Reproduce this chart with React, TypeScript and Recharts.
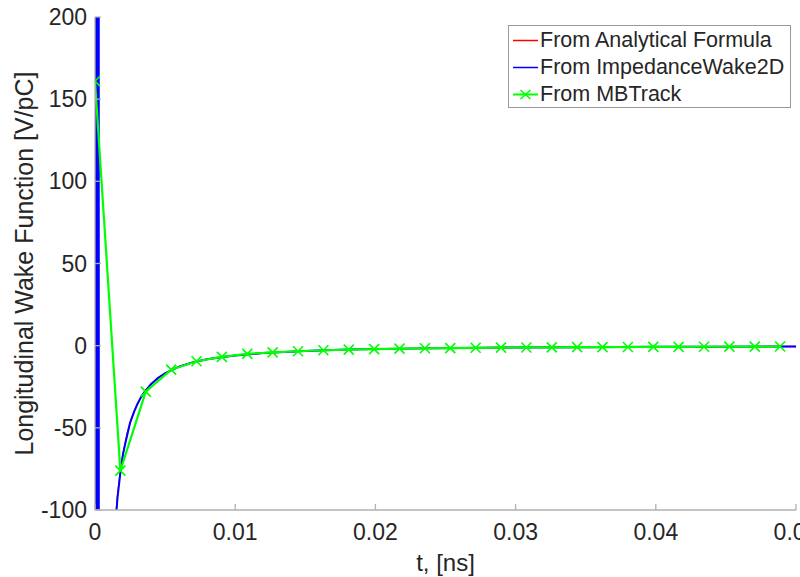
import { LineChart, Line, XAxis, YAxis, Legend, Label } from 'recharts';

// analytical resistive-wall wake, t in ns, W in V/pC
const analyticT = [0.0014, 0.0016, 0.0018, 0.002, 0.0023, 0.0026, 0.003, 0.0035, 0.004, 0.005, 0.006, 0.007, 0.008, 0.01, 0.012, 0.015, 0.018, 0.022, 0.026, 0.03, 0.035, 0.04, 0.045, 0.05];
const analyticV = [-111.7, -91.4, -76.6, -65.4, -53.1, -44.1, -35.6, -28.3, -23.1, -16.6, -12.6, -10.0, -8.2, -5.9, -4.5, -3.2, -2.4, -1.8, -1.4, -1.1, -0.9, -0.7, -0.6, -0.5];

// ImpedanceWake2D: big spike at t=0 then the tail
const iw2dT = [0, 0.00006, 0.00012, 0.00018, 0.00024, 0.0003, 0.00145, 0.0016, 0.0018, 0.002, 0.0022, 0.0025, 0.0028, 0.003, 0.0033, 0.0036, 0.004, 0.0045, 0.005, 0.006, 0.007, 0.008, 0.009, 0.01, 0.012, 0.015, 0.018, 0.022, 0.026, 0.03, 0.035, 0.04, 0.045, 0.05];
const iw2dV = [3000, -3000, 3000, -3000, 3000, -3000, -110, -93, -78, -66, -58, -47, -40, -36, -31, -27.5, -23.5, -19.5, -16.8, -12.8, -10.1, -8.3, -7.0, -6.0, -4.5, -3.2, -2.4, -1.8, -1.4, -1.1, -0.9, -0.7, -0.6, -0.5];

// MBTrack samples
const mbtrackT = [0, 0.00181, 0.00362, 0.00543, 0.00724, 0.00905, 0.01086, 0.01267, 0.01448, 0.01629, 0.0181, 0.01991, 0.02172, 0.02353, 0.02534, 0.02715, 0.02896, 0.03077, 0.03258, 0.03439, 0.0362, 0.03801, 0.03982, 0.04163, 0.04344, 0.04525, 0.04706, 0.04887];
const mbtrackV = [161, -76, -28, -14.6, -9.5, -6.8, -5.0, -4.1, -3.4, -2.8, -2.4, -2.1, -1.8, -1.6, -1.5, -1.3, -1.2, -1.1, -1.0, -0.9, -0.85, -0.8, -0.75, -0.7, -0.65, -0.6, -0.57, -0.54];

const xTicks = [0, 0.01, 0.02, 0.03, 0.04, 0.05];
const yTicks = [-100, -50, 0, 50, 100, 150, 200];

const FONT = '"Liberation Sans", Arial, Helvetica, sans-serif';
const TEXT = '#262626';
const FRAME = '#b0b0b0';

const zip = (t: number[], v: number[]) => t.map((x, i) => ({ t: x, v: v[i] }));

const CrossDot = (props: any) => {
  const { cx, cy, index } = props;
  if (cx == null || cy == null) return <g key={index} />;
  const s = 5;
  return (
    <path
      key={index}
      d={`M${cx - s},${cy - s}L${cx + s},${cy + s}M${cx - s},${cy + s}L${cx + s},${cy - s}`}
      stroke="#00ff00"
      strokeWidth={1.6}
      fill="none"
    />
  );
};

const LegendBox = (props: any) => {
  const payload = props.payload || [];
  return (
    <div
      style={{
        width: 283,
        height: 83,
        border: '1.5px solid #999',
        background: '#fff',
        boxSizing: 'border-box',
        paddingTop: 1,
        fontFamily: FONT,
        fontSize: 21.5,
        color: TEXT,
      }}
    >
      {payload.map((e: any, i: number) => (
        <div key={i} style={{ display: 'flex', alignItems: 'center', height: 27 }}>
          <svg width={31} height={27} style={{ flex: 'none' }}>
            <line x1={4} y1={13.5} x2={29} y2={13.5} stroke={e.color} strokeWidth={e.type === 'cross' ? 2 : 1.5} />
            {e.type === 'cross' && (
              <path d="M11.5,9L21.5,18M11.5,18L21.5,9" stroke={e.color} strokeWidth={1.6} fill="none" />
            )}
          </svg>
          <span style={{ whiteSpace: 'nowrap', lineHeight: '27px' }}>{e.value}</span>
        </div>
      ))}
    </div>
  );
};

const tickStyle = { fill: TEXT, fontSize: 23, fontFamily: FONT };

export default function App() {
  return (
    <div style={{ position: 'absolute', left: 0, top: 0, width: 800, height: 577, overflow: 'hidden', background: '#fff' }}>
      <LineChart width={850} height={577} margin={{ top: 17, right: 54, bottom: 0, left: 0 }}>
        <XAxis
          dataKey="t"
          type="number"
          domain={[0, 0.05]}
          ticks={xTicks}
          allowDataOverflow
          height={67}
          stroke={FRAME}
          strokeWidth={1.3}
          tickSize={-6}
          tickMargin={20}
          tick={tickStyle}
          interval={0}
        >
          <Label
            content={(p: any) => {
              const vb = p.viewBox || { x: 95, y: 510, width: 701 };
              return (
                <text x={vb.x + vb.width / 2} y={571} textAnchor="middle" fill={TEXT} fontSize={24} fontFamily={FONT}>
                  t, [ns]
                </text>
              );
            }}
          />
        </XAxis>
        <XAxis
          xAxisId="top"
          orientation="top"
          dataKey="t"
          type="number"
          domain={[0, 0.05]}
          ticks={xTicks}
          allowDataOverflow
          height={0}
          stroke={FRAME}
          strokeWidth={1.3}
          tickSize={-6}
          tick={() => <g />}
          interval={0}
        />
        <YAxis
          dataKey="v"
          type="number"
          domain={[-100, 200]}
          ticks={yTicks}
          allowDataOverflow
          width={95}
          stroke={FRAME}
          strokeWidth={1.3}
          tickSize={-6}
          tickMargin={14}
          tick={tickStyle}
          interval={0}
        >
          <Label
            content={(p: any) => {
              const vb = p.viewBox || { x: 0, y: 17, height: 493 };
              const cy = vb.y + vb.height / 2;
              return (
                <text x={33} y={cy} transform={`rotate(-90 33 ${cy})`} textAnchor="middle" fill={TEXT} fontSize={25} fontFamily={FONT}>
                  Longitudinal Wake Function [V/pC]
                </text>
              );
            }}
          />
        </YAxis>
        <YAxis
          yAxisId="right"
          orientation="right"
          type="number"
          domain={[-100, 200]}
          ticks={yTicks}
          allowDataOverflow
          width={0}
          stroke={FRAME}
          strokeWidth={1.3}
          tickSize={-6}
          tick={() => <g />}
          interval={0}
        />
        <Legend
          layout="horizontal"
          align="center"
          verticalAlign="middle"
          width={283}
          wrapperStyle={{ left: 508, top: 25, width: 283 }}
          content={LegendBox}
        />
        <Line
          data={zip(analyticT, analyticV)}
          dataKey="v"
          name="From Analytical Formula"
          stroke="#ff0000"
          strokeWidth={1.3}
          dot={false}
          legendType="line"
          isAnimationActive={false}
        />
        <Line
          data={zip(iw2dT, iw2dV)}
          dataKey="v"
          name="From ImpedanceWake2D"
          stroke="#0000ff"
          strokeWidth={2}
          dot={false}
          legendType="line"
          isAnimationActive={false}
        />
        <Line
          data={zip(mbtrackT, mbtrackV)}
          dataKey="v"
          name="From MBTrack"
          stroke="#00ff00"
          strokeWidth={2.2}
          dot={CrossDot}
          legendType="cross"
          isAnimationActive={false}
        />
      </LineChart>
    </div>
  );
}
